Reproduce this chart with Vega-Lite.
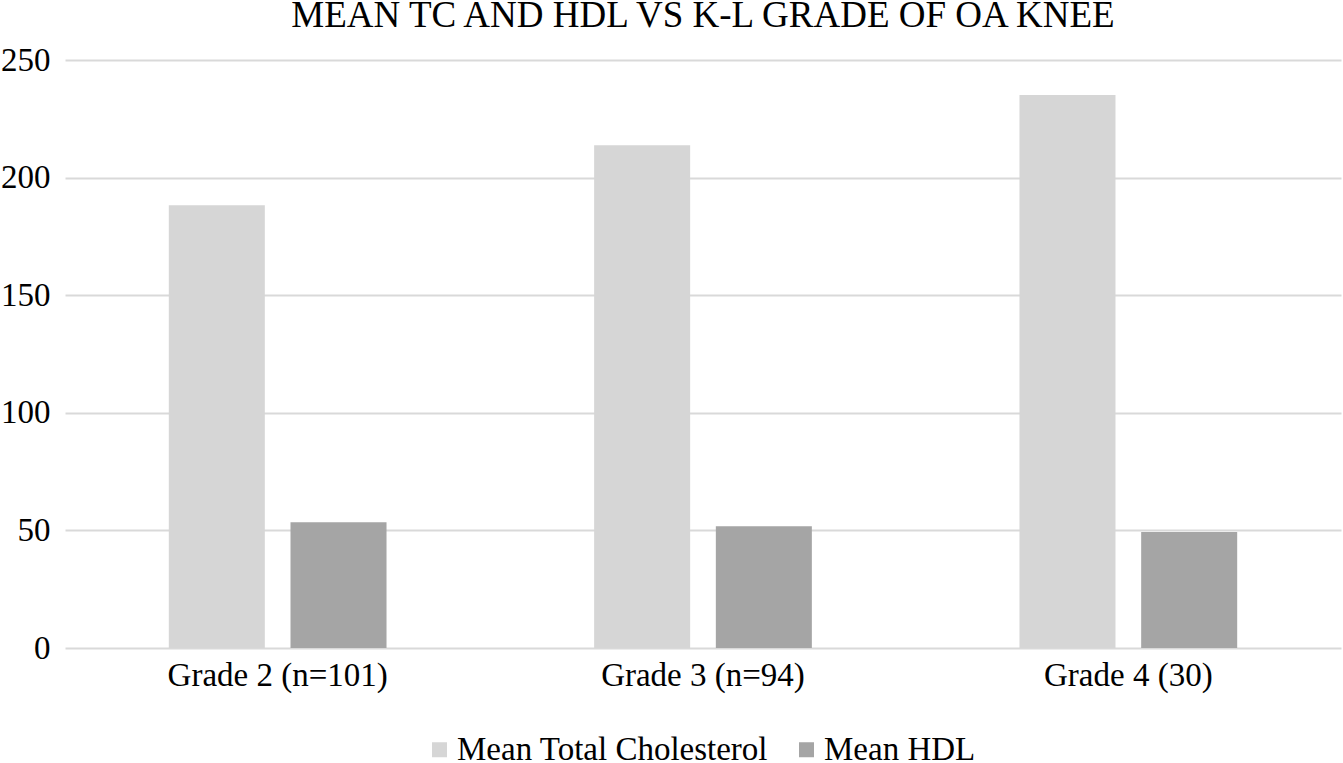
{
  "$schema": "https://vega.github.io/schema/vega-lite/v6.json",
  "autosize": {"type": "none"},
  "padding": {"left": 65, "top": 60, "right": 2, "bottom": 115},
  "width": 1276,
  "height": 588,
  "background": "white",
  "title": {
    "text": "MEAN TC AND HDL VS K-L GRADE OF OA KNEE",
    "font": "Liberation Serif",
    "fontSize": 37,
    "fontWeight": "normal",
    "color": "#000000",
    "anchor": "middle",
    "baseline": "alphabetic",
    "offset": -20
  },
  "data": {
    "values": [
      {"grade": "Grade 2 (n=101)", "measure": "Mean Total Cholesterol", "value": 188.2},
      {"grade": "Grade 2 (n=101)", "measure": "Mean HDL", "value": 53.5},
      {"grade": "Grade 3 (n=94)", "measure": "Mean Total Cholesterol", "value": 213.8},
      {"grade": "Grade 3 (n=94)", "measure": "Mean HDL", "value": 51.8},
      {"grade": "Grade 4 (30)", "measure": "Mean Total Cholesterol", "value": 235.1},
      {"grade": "Grade 4 (30)", "measure": "Mean HDL", "value": 49.3}
    ]
  },
  "mark": {"type": "bar"},
  "encoding": {
    "x": {
      "field": "grade",
      "type": "nominal",
      "sort": ["Grade 2 (n=101)", "Grade 3 (n=94)", "Grade 4 (30)"],
      "scale": {"paddingInner": 0, "paddingOuter": 0},
      "axis": {
        "title": null,
        "labelAngle": 0,
        "labelLimit": 0,
        "domain": false,
        "ticks": false,
        "grid": false,
        "labelFont": "Liberation Serif",
        "labelFontSize": 33,
        "labelColor": "#000000",
        "labelPadding": 11
      }
    },
    "xOffset": {
      "field": "measure",
      "type": "nominal",
      "sort": ["Mean Total Cholesterol", "Mean HDL"],
      "scale": {"paddingInner": 0.211, "paddingOuter": 0.853}
    },
    "y": {
      "field": "value",
      "type": "quantitative",
      "scale": {"domain": [0, 250], "nice": false},
      "axis": {
        "title": null,
        "values": [0, 50, 100, 150, 200, 250],
        "domain": false,
        "ticks": false,
        "grid": true,
        "gridColor": "#d9d9d9",
        "gridWidth": 2,
        "labelFont": "Liberation Serif",
        "labelFontSize": 33,
        "labelColor": "#000000",
        "labelPadding": 15
      }
    },
    "color": {
      "field": "measure",
      "type": "nominal",
      "sort": ["Mean Total Cholesterol", "Mean HDL"],
      "scale": {"domain": ["Mean Total Cholesterol", "Mean HDL"], "range": ["#d6d6d6", "#a5a5a5"]},
      "legend": {
        "title": null,
        "orient": "none",
        "legendX": 358,
        "legendY": 673,
        "direction": "horizontal",
        "symbolType": "square",
        "symbolSize": 225,
        "symbolStrokeWidth": 0,
        "labelFont": "Liberation Serif",
        "labelFontSize": 33,
        "labelColor": "#000000",
        "labelLimit": 0,
        "labelOffset": 1,
        "columnPadding": 21
      }
    }
  },
  "config": {
    "view": {"stroke": null}
  }
}
